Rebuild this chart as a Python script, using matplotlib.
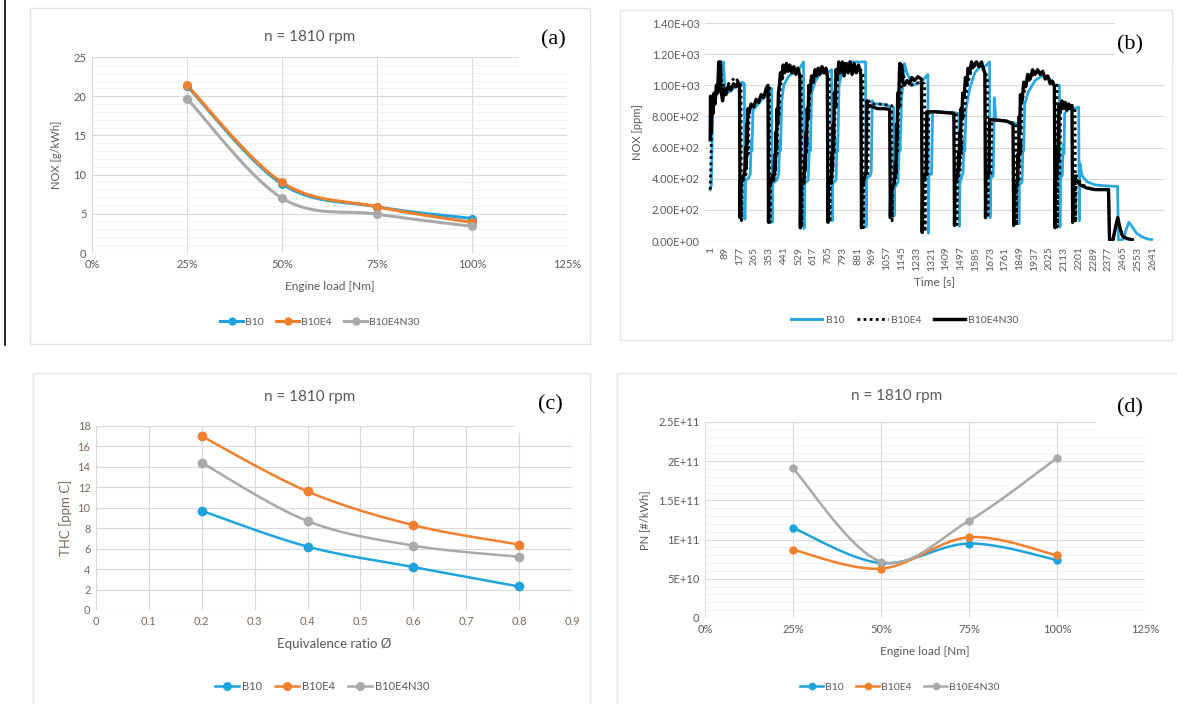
import numpy as np
import matplotlib
matplotlib.use("Agg")
import matplotlib.pyplot as plt
from matplotlib.patches import Rectangle
from matplotlib.lines import Line2D

# ---------------- data ----------------
series_names = ["B10", "B10E4", "B10E4N30"]

# (a) NOx vs engine load
load = [0.25, 0.50, 0.75, 1.00]
nox_b10 = [21.3, 8.8, 5.9, 4.4]
nox_b10e4 = [21.4, 9.0, 5.9, 3.9]
nox_b10e4n30 = [19.7, 7.0, 4.95, 3.4]

# (c) THC vs equivalence ratio
phi = [0.2, 0.4, 0.6, 0.8]
thc_b10 = [9.7, 6.2, 4.2, 2.3]
thc_b10e4 = [17.0, 11.6, 8.3, 6.4]
thc_b10e4n30 = [14.4, 8.7, 6.3, 5.2]

# (d) PN vs engine load
pn_b10 = [1.15e11, 0.70e11, 0.95e11, 0.74e11]
pn_b10e4 = [0.87e11, 0.63e11, 1.03e11, 0.80e11]
pn_b10e4n30 = [1.91e11, 0.72e11, 1.24e11, 2.04e11]

# (b) transient NOx [ppm] vs time [s]: (time, value) key points
trace_b10e4n30 = [
    (1, 650), (3, 930), (8, 700), (12, 900), (18, 820), (24, 950), (30, 880), (38, 1000), (45, 950),
    (52, 1150), (58, 1100), (62, 1150), (66, 960), (75, 900), (85, 980), (95, 940), (110, 1000),
    (125, 970), (140, 1010), (155, 990), (168, 1020), (176, 1000),
    (179, 150), (182, 400), (190, 380), (200, 420), (208, 450), (212, 600), (215, 480), (219, 750),
    (222, 650), (226, 850), (232, 820), (245, 880), (260, 860), (275, 910), (290, 890), (305, 940),
    (320, 920), (335, 980), (346, 1000),
    (349, 120), (352, 400), (362, 370), (372, 420), (380, 390), (386, 550), (389, 450), (393, 700),
    (396, 600), (400, 850), (404, 750), (408, 950), (414, 1000), (420, 1080), (428, 1040), (436, 1130),
    (446, 1080), (456, 1140), (466, 1090), (476, 1130), (488, 1080), (500, 1120), (512, 1070),
    (524, 1110), (536, 1060),
    (539, 85), (542, 380), (552, 400), (560, 370), (566, 550), (569, 460), (573, 700), (576, 620),
    (580, 850), (584, 780), (590, 1000), (598, 960), (606, 1060), (616, 1020), (626, 1100), (636, 1060),
    (646, 1110), (656, 1070), (668, 1120), (680, 1080), (692, 1110), (700, 1060),
    (704, 120), (707, 380), (716, 400), (724, 370), (728, 550), (731, 470), (735, 750), (738, 650),
    (742, 950), (746, 880), (752, 1100), (760, 1040), (768, 1150), (778, 1080), (790, 1150), (800, 1060),
    (812, 1140), (824, 1080), (836, 1150), (848, 1070), (860, 1140), (872, 1080), (886, 1130), (900, 1070),
    (904, 85), (907, 400), (916, 380), (925, 420), (932, 440), (936, 900), (942, 860), (950, 870),
    (1000, 850), (1040, 850), (1072, 845),
    (1076, 150), (1079, 350), (1090, 340), (1100, 380), (1106, 500), (1109, 430), (1113, 750),
    (1116, 650), (1120, 950), (1125, 880), (1132, 1140), (1138, 1100), (1144, 1130), (1150, 1020),
    (1160, 1000), (1175, 1030), (1190, 1010), (1205, 1050), (1220, 1030), (1240, 1055), (1262, 1040),
    (1266, 55), (1270, 420), (1280, 410), (1290, 440), (1294, 830), (1340, 830), (1400, 825), (1455, 820),
    (1459, 100), (1462, 380), (1472, 400), (1480, 450), (1484, 560), (1487, 480), (1491, 700),
    (1494, 620), (1498, 850), (1502, 780), (1508, 950), (1516, 920), (1524, 1050), (1532, 1000),
    (1540, 1110), (1550, 1080), (1560, 1150), (1575, 1120), (1590, 1150), (1605, 1120), (1620, 1150),
    (1632, 1100), (1640, 1080),
    (1644, 150), (1647, 420), (1656, 410), (1664, 440), (1668, 780), (1720, 775), (1770, 770), (1808, 750),
    (1812, 100), (1815, 350), (1825, 340), (1834, 380), (1838, 560), (1841, 480), (1845, 800),
    (1848, 700), (1852, 940), (1862, 900), (1872, 1020), (1884, 990), (1896, 1070), (1910, 1040),
    (1925, 1100), (1940, 1070), (1955, 1100), (1970, 1070), (1985, 1090), (2000, 1040), (2015, 1060),
    (2030, 1010), (2045, 1020), (2055, 990),
    (2059, 85), (2062, 400), (2070, 420), (2075, 600), (2078, 520), (2082, 880), (2090, 840),
    (2100, 900), (2110, 850), (2120, 890), (2130, 840), (2140, 880), (2150, 850), (2160, 870),
    (2164, 120), (2168, 420), (2185, 390), (2210, 360), (2250, 340), (2300, 330), (2378, 330),
    (2384, 5), (2405, 10), (2420, 90), (2433, 150), (2447, 80), (2462, 30), (2490, 15), (2520, 8),
]

trace_b10e4 = [
    (1, 330), (5, 500), (9, 700), (13, 900), (30, 920), (50, 1000), (62, 1150), (70, 1000), (100, 1000),
    (150, 1050), (185, 1000),
    (188, 130), (191, 380), (205, 400), (218, 440), (224, 650), (228, 560), (234, 850), (260, 880),
    (300, 920), (340, 960), (355, 1000),
    (358, 120), (361, 370), (380, 400), (392, 440), (397, 650), (400, 560), (406, 850), (412, 800),
    (420, 1000), (450, 1100), (480, 1120), (510, 1090), (545, 1080),
    (548, 90), (551, 380), (566, 400), (574, 650), (577, 560), (583, 850), (590, 800), (600, 1030),
    (640, 1100), (680, 1100), (712, 1050),
    (715, 120), (718, 380), (732, 400), (738, 650), (741, 560), (748, 900), (754, 850), (765, 1100),
    (800, 1140), (850, 1120), (900, 1100), (912, 1070),
    (915, 85), (918, 400), (935, 420), (943, 440), (948, 900), (960, 880), (1000, 880), (1050, 875),
    (1084, 870),
    (1087, 130), (1090, 350), (1108, 380), (1116, 650), (1119, 560), (1126, 900), (1134, 850),
    (1148, 1100), (1160, 1040), (1200, 1000), (1250, 1020), (1280, 1010),
    (1283, 60), (1286, 420), (1300, 430), (1306, 830), (1360, 830), (1420, 825), (1470, 820),
    (1473, 105), (1476, 380), (1492, 450), (1498, 650), (1501, 560), (1508, 850), (1515, 800),
    (1535, 1000), (1560, 1100), (1590, 1150), (1620, 1140), (1655, 1050),
    (1658, 150), (1661, 420), (1676, 430), (1682, 780), (1740, 775), (1790, 765), (1825, 750),
    (1828, 100), (1831, 350), (1846, 380), (1852, 650), (1855, 560), (1862, 900), (1885, 1000),
    (1920, 1060), (1960, 1090), (2000, 1070), (2040, 1030), (2070, 1000),
    (2073, 90), (2076, 400), (2087, 420), (2093, 870), (2120, 880), (2150, 860), (2178, 850),
    (2181, 120), (2185, 420), (2200, 390), (2225, 360), (2260, 340), (2300, 330), (2378, 330),
    (2384, 5), (2405, 10), (2420, 85), (2433, 145), (2447, 80), (2462, 30), (2490, 15), (2520, 8),
]

trace_b10 = [
    (1, 330), (8, 360), (12, 600), (16, 900), (35, 930), (60, 1000), (70, 1080), (80, 1150), (90, 950),
    (120, 960), (160, 1000), (195, 1020), (205, 1010),
    (208, 140), (211, 390), (228, 400), (240, 430), (246, 650), (250, 580), (256, 840), (280, 870),
    (320, 920), (360, 960), (368, 980),
    (371, 120), (374, 370), (398, 390), (410, 430), (416, 650), (420, 580), (428, 900), (440, 1000),
    (470, 1060), (500, 1080), (530, 1100), (558, 1150),
    (561, 80), (564, 370), (586, 390), (594, 650), (598, 580), (606, 950), (630, 1030), (660, 1080),
    (700, 1080), (726, 1100),
    (729, 130), (732, 370), (752, 390), (758, 650), (762, 580), (770, 1000), (790, 1100), (830, 1150),
    (870, 1150), (910, 1150), (928, 1150),
    (931, 90), (934, 400), (955, 420), (962, 440), (968, 900), (975, 880), (1020, 880), (1060, 870),
    (1095, 860),
    (1098, 160), (1101, 340), (1122, 380), (1130, 650), (1134, 580), (1142, 900), (1160, 1140),
    (1175, 1080), (1210, 1000), (1260, 1020), (1300, 1070),
    (1303, 50), (1306, 420), (1322, 430), (1328, 830), (1380, 830), (1440, 825), (1485, 820),
    (1488, 95), (1491, 370), (1510, 440), (1516, 650), (1520, 580), (1528, 850), (1550, 980),
    (1580, 1080), (1610, 1120), (1640, 1120), (1668, 1150),
    (1671, 150), (1674, 400), (1690, 420), (1696, 920), (1706, 780), (1760, 770), (1810, 760), (1840, 750),
    (1843, 110), (1846, 360), (1862, 380), (1868, 650), (1872, 580), (1878, 880), (1900, 960),
    (1940, 1030), (1980, 1060), (2020, 1050), (2060, 1000), (2085, 1000),
    (2088, 90), (2091, 400), (2102, 420), (2108, 620), (2112, 560), (2116, 820), (2140, 850),
    (2170, 850), (2200, 860),
    (2203, 130), (2207, 500), (2220, 420), (2250, 380), (2300, 360), (2350, 355), (2432, 350),
    (2437, 5), (2465, 10), (2485, 80), (2500, 120), (2520, 90), (2545, 50), (2580, 25), (2615, 12),
    (2635, 10),
]

time_ticks = list(range(1, 2642, 88))
time_tick_labels = [str(v) for v in time_ticks]
pct_labels = ["0%", "25%", "50%", "75%", "100%", "125%"]

# ---------------- style ----------------
BLUE = "#1ea3dc"
ORANGE = "#f07f2e"
GRAY = "#a9a9a9"
TXT = "#595959"
GRID = "#d9d9d9"
MINOR = "#eeeeee"
FONT = ["Lato", "DejaVu Sans"]

plt.rcParams["font.family"] = FONT

W, H = 1177, 704
fig = plt.figure(figsize=(W / 100, H / 100), dpi=100)
fig.patch.set_facecolor("white")


def ax_at(x0, y0, x1, y1):
    return fig.add_axes([x0 / W, 1 - y1 / H, (x1 - x0) / W, (y1 - y0) / H])


def frame(x0, y0, x1, y1):
    fig.patches.append(Rectangle((x0 / W, 1 - y1 / H), (x1 - x0) / W, (y1 - y0) / H,
                                 transform=fig.transFigure, fill=False,
                                 edgecolor="#e4e4e4", lw=1.0, zorder=-1))


def whitebox(x0, y0, x1, y1, label, tx, ty):
    fig.patches.append(Rectangle((x0 / W, 1 - y1 / H), (x1 - x0) / W, (y1 - y0) / H,
                                 transform=fig.transFigure, facecolor="white",
                                 edgecolor="none", zorder=5))
    fig.text(tx / W, 1 - ty / H, label, ha="center", va="center", fontsize=16,
             family=["Liberation Serif", "DejaVu Serif"], color="black", zorder=6)


def smooth(x, y, xr, yr, n=40):
    x = np.asarray(x, float) / xr
    y = np.asarray(y, float) / yr
    P = np.column_stack([x, y])
    out = []
    for i in range(len(P) - 1):
        p0 = P[i - 1] if i > 0 else P[i]
        p1 = P[i]
        p2 = P[i + 1]
        p3 = P[i + 2] if i + 2 < len(P) else P[i + 1]
        c1 = p1 + (p2 - p0) / 6.0
        c2 = p2 - (p3 - p1) / 6.0
        s = np.linspace(0, 1, n)[:, None]
        seg = ((1 - s) ** 3) * p1 + 3 * ((1 - s) ** 2) * s * c1 + 3 * (1 - s) * s ** 2 * c2 + s ** 3 * p2
        out.append(seg if i == 0 else seg[1:])
    out = np.vstack(out)
    return out[:, 0] * xr, out[:, 1] * yr


def style_axes(ax, tick_color=TXT):
    for sp in ax.spines.values():
        sp.set_visible(False)
    ax.tick_params(length=0, labelsize=8, colors=tick_color, pad=4)
    ax.set_axisbelow(True)


def line_series(ax, x, ys, xr, yr, lw=2.2, ms=5.5):
    handles = []
    for y, c in zip(ys, [BLUE, ORANGE, GRAY]):
        sx, sy = smooth(x, y, xr, yr)
        ax.plot(sx, sy, color=c, lw=lw, solid_capstyle="round", zorder=3)
        ax.plot(x, y, "o", color=c, ms=ms, zorder=4)
        handles.append(Line2D([], [], color=c, lw=lw, marker="o", ms=ms - 0.5))
    return handles


# ---------------- frames ----------------
frame(30, 8, 590, 344)
frame(620, 10, 1172, 340)
frame(33, 373, 590, 710)
frame(617, 373, 1180, 710)
fig.add_artist(Line2D([5 / W, 5 / W], [1, 1 - 345 / H], color="black", lw=1.2,
                      transform=fig.transFigure))

# ---------------- (a) ----------------
ax = ax_at(92, 57, 567, 253)
style_axes(ax)
ax.set_xlim(0, 1.25)
ax.set_ylim(0, 25)
ax.set_xticks(np.arange(0, 1.26, 0.25))
ax.set_xticklabels(pct_labels)
ax.set_yticks(np.arange(0, 26, 5))
ax.set_yticks(np.arange(0, 26, 1), minor=True)
ax.tick_params(which="minor", length=0)
ax.grid(True, which="major", color=GRID, lw=0.8)
ax.grid(True, which="minor", axis="y", color=MINOR, lw=0.6)
h = line_series(ax, load, [nox_b10, nox_b10e4, nox_b10e4n30], 1.25, 25)
ax.set_xlabel("Engine load [Nm]", fontsize=8.5, color=TXT, labelpad=8)
ax.set_ylabel("NOX [g/kWh]", fontsize=8, color=TXT, labelpad=8)
fig.text(310 / W, 1 - 37 / H, "n = 1810 rpm", ha="center", va="center", fontsize=11, color=TXT)
fig.legend(h, series_names, loc="center", bbox_to_anchor=(320 / W, 1 - 322 / H),
           ncol=3, frameon=False, fontsize=7.5, handlelength=2.2, columnspacing=1.2,
           handletextpad=0.2, labelcolor=TXT)
whitebox(518, 12, 590, 68, "(a)", 553, 40)

# ---------------- (b) ----------------
ax = ax_at(705, 23, 1165, 241)
style_axes(ax)
ax.set_xlim(-30, 2715)
ax.set_ylim(0, 1400)
yt = np.arange(0, 1401, 200)
ax.set_yticks(yt)
ax.set_yticklabels([f"{v:.2E}" for v in yt])
ax.set_xticks(time_ticks)
ax.set_xticklabels(time_tick_labels, rotation=90, fontsize=7.5)
ax.grid(True, axis="y", color=GRID, lw=0.8)
ax.axhline(0, color="#bfbfbf", lw=0.8, zorder=1)
tb, vb = zip(*trace_b10)
td, vd = zip(*trace_b10e4)
tk, vk = zip(*trace_b10e4n30)
ax.plot(tb, vb, color="#29a8e0", lw=2.0, zorder=2)
ax.plot(td, vd, color="black", lw=2.0, ls=(0, (1, 1.2)), zorder=3)
ax.plot(tk, vk, color="black", lw=2.4, zorder=4)
ax.set_xlabel("Time [s]", fontsize=8.5, color=TXT, labelpad=4)
ax.set_ylabel("NOX [ppm]", fontsize=8, color=TXT, labelpad=6)
hb = [Line2D([], [], color="#29a8e0", lw=2.2),
      Line2D([], [], color="black", lw=2.0, ls=(0, (1, 1.2))),
      Line2D([], [], color="black", lw=2.5)]
fig.legend(hb, series_names, loc="center", bbox_to_anchor=(905 / W, 1 - 320 / H),
           ncol=3, frameon=False, fontsize=7.5, handlelength=3.0, columnspacing=1.2,
           handletextpad=0.3, labelcolor=TXT)
whitebox(1115, 14, 1172, 68, "(b)", 1130, 45)

# ---------------- (c) ----------------
CBR = "#7d6a5d"
ax = ax_at(96, 426, 572, 610)
style_axes(ax, tick_color=CBR)
ax.set_xlim(0, 0.9)
ax.set_ylim(0, 18)
ax.set_xticks(np.arange(0, 0.91, 0.1))
ax.set_xticklabels(["0", "0.1", "0.2", "0.3", "0.4", "0.5", "0.6", "0.7", "0.8", "0.9"])
ax.set_yticks(np.arange(0, 19, 2))
ax.grid(True, color=GRID, lw=0.8)
h = line_series(ax, phi, [thc_b10, thc_b10e4, thc_b10e4n30], 0.9, 18, lw=1.8, ms=6)
ax.set_xlabel("Equivalence ratio Ø", fontsize=9.5, color=TXT, labelpad=8)
ax.set_ylabel("THC [ppm C]", fontsize=9.5, color=CBR, labelpad=4)
fig.text(310 / W, 1 - 397 / H, "n = 1810 rpm", ha="center", va="center", fontsize=11, color=TXT)
fig.legend(h, series_names, loc="center", bbox_to_anchor=(322 / W, 1 - 686 / H),
           ncol=3, frameon=False, fontsize=8, handlelength=2.2, columnspacing=1.2,
           handletextpad=0.2, labelcolor=TXT)
whitebox(515, 380, 590, 433, "(c)", 550, 405)

# ---------------- (d) ----------------
ax = ax_at(705, 422, 1145, 618)
style_axes(ax)
ax.set_xlim(0, 1.25)
ax.set_ylim(0, 2.5e11)
ax.set_xticks(np.arange(0, 1.26, 0.25))
ax.set_xticklabels(pct_labels)
ax.set_yticks(np.arange(0, 2.51e11, 0.5e11))
ax.set_yticklabels(["0", "5E+10", "1E+11", "1.5E+11", "2E+11", "2.5E+11"])
ax.set_yticks(np.arange(0, 2.51e11, 0.1e11), minor=True)
ax.tick_params(which="minor", length=0)
ax.grid(True, which="major", color=GRID, lw=0.8)
ax.grid(True, which="minor", axis="y", color=MINOR, lw=0.6)
h = line_series(ax, load, [pn_b10, pn_b10e4, pn_b10e4n30], 1.25, 2.5e11, lw=1.8, ms=5)
ax.set_xlabel("Engine load [Nm]", fontsize=8.5, color=TXT, labelpad=8)
ax.set_ylabel("PN [#/kWh]", fontsize=8, color=TXT, labelpad=6)
fig.text(897 / W, 1 - 396 / H, "n = 1810 rpm", ha="center", va="center", fontsize=11, color=TXT)
fig.legend(h, series_names, loc="center", bbox_to_anchor=(900 / W, 1 - 687 / H),
           ncol=3, frameon=False, fontsize=7.5, handlelength=2.2, columnspacing=1.2,
           handletextpad=0.2, labelcolor=TXT)
whitebox(1096, 380, 1177, 437, "(d)", 1130, 408)

fig.savefig("out.png", dpi=100, facecolor="white")
